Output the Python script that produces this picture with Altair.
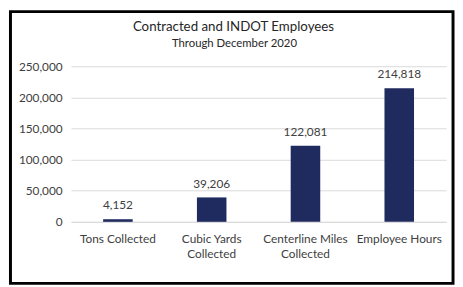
import altair as alt
import pandas as pd

categories = ["Tons Collected", "Cubic Yards|Collected", "Centerline Miles|Collected", "Employee Hours"]
values = [4152, 39206, 122081, 214818]
y_ticks = [0, 50000, 100000, 150000, 200000, 250000]
title_text = "Contracted and INDOT Employees"
subtitle_text = "Through December 2020"

df = pd.DataFrame({"category": categories, "value": values})
one_df = pd.DataFrame({"title": [title_text], "subtitle": [subtitle_text]})

FONT = "Lato"
TEXT = "#404040"
BAR = "#1f2a5e"

x = alt.X("category:N", sort=categories, title=None,
          scale=alt.Scale(paddingInner=0, paddingOuter=0),
          axis=alt.Axis(labelExpr="split(datum.label, '|')", labelAngle=0,
                        labelFont=FONT, labelFontSize=12, labelColor=TEXT,
                        labelLineHeight=15, labelPadding=12, ticks=False,
                        domain=True, domainColor="#d9d9d9", grid=False,
                        labelBaseline="top"))
y = alt.Y("value:Q", title=None,
          scale=alt.Scale(domain=[0, 250000], nice=False),
          axis=alt.Axis(values=y_ticks, labelExpr="format(datum.value, ',')",
                        labelFont=FONT, labelFontSize=12,
                        labelColor=TEXT, labelPadding=9, ticks=False, domain=False,
                        grid=True, gridColor="#d9d9d9", gridWidth=1))

base = alt.Chart(df).encode(x=x, y=y)
bars = base.mark_bar(size=30, color=BAR)
labels = base.mark_text(font=FONT, fontSize=12, color=TEXT, dy=-10,
                        baseline="alphabetic").encode(text=alt.Text("value:Q", format=","))

frame = alt.Chart(one_df).mark_rect(fill="transparent", stroke="#000000", strokeWidth=3).encode(
    x=alt.value(-61.5), x2=alt.value(388), y=alt.value(-55.5), y2=alt.value(220.5))

title = alt.Chart(one_df).mark_text(font=FONT, fontSize=13.5, color="#262626",
                                    baseline="alphabetic", align="center").encode(
    x=alt.value(165), y=alt.value(-35.5), text="title:N")
subtitle = alt.Chart(one_df).mark_text(font=FONT, fontSize=11.5, color="#262626",
                                       baseline="alphabetic", align="center").encode(
    x=alt.value(166), y=alt.value(-19.5), text="subtitle:N")

chart = alt.layer(bars, labels, frame, title, subtitle).properties(
    width=381, height=158,
    padding={"left": 64, "top": 57, "right": 9, "bottom": 62},
    autosize=alt.AutoSizeParams(type="none"),
    background="white",
).configure_view(stroke=None)

chart.save("out.html", embed_options={"renderer": "svg", "actions": False})
